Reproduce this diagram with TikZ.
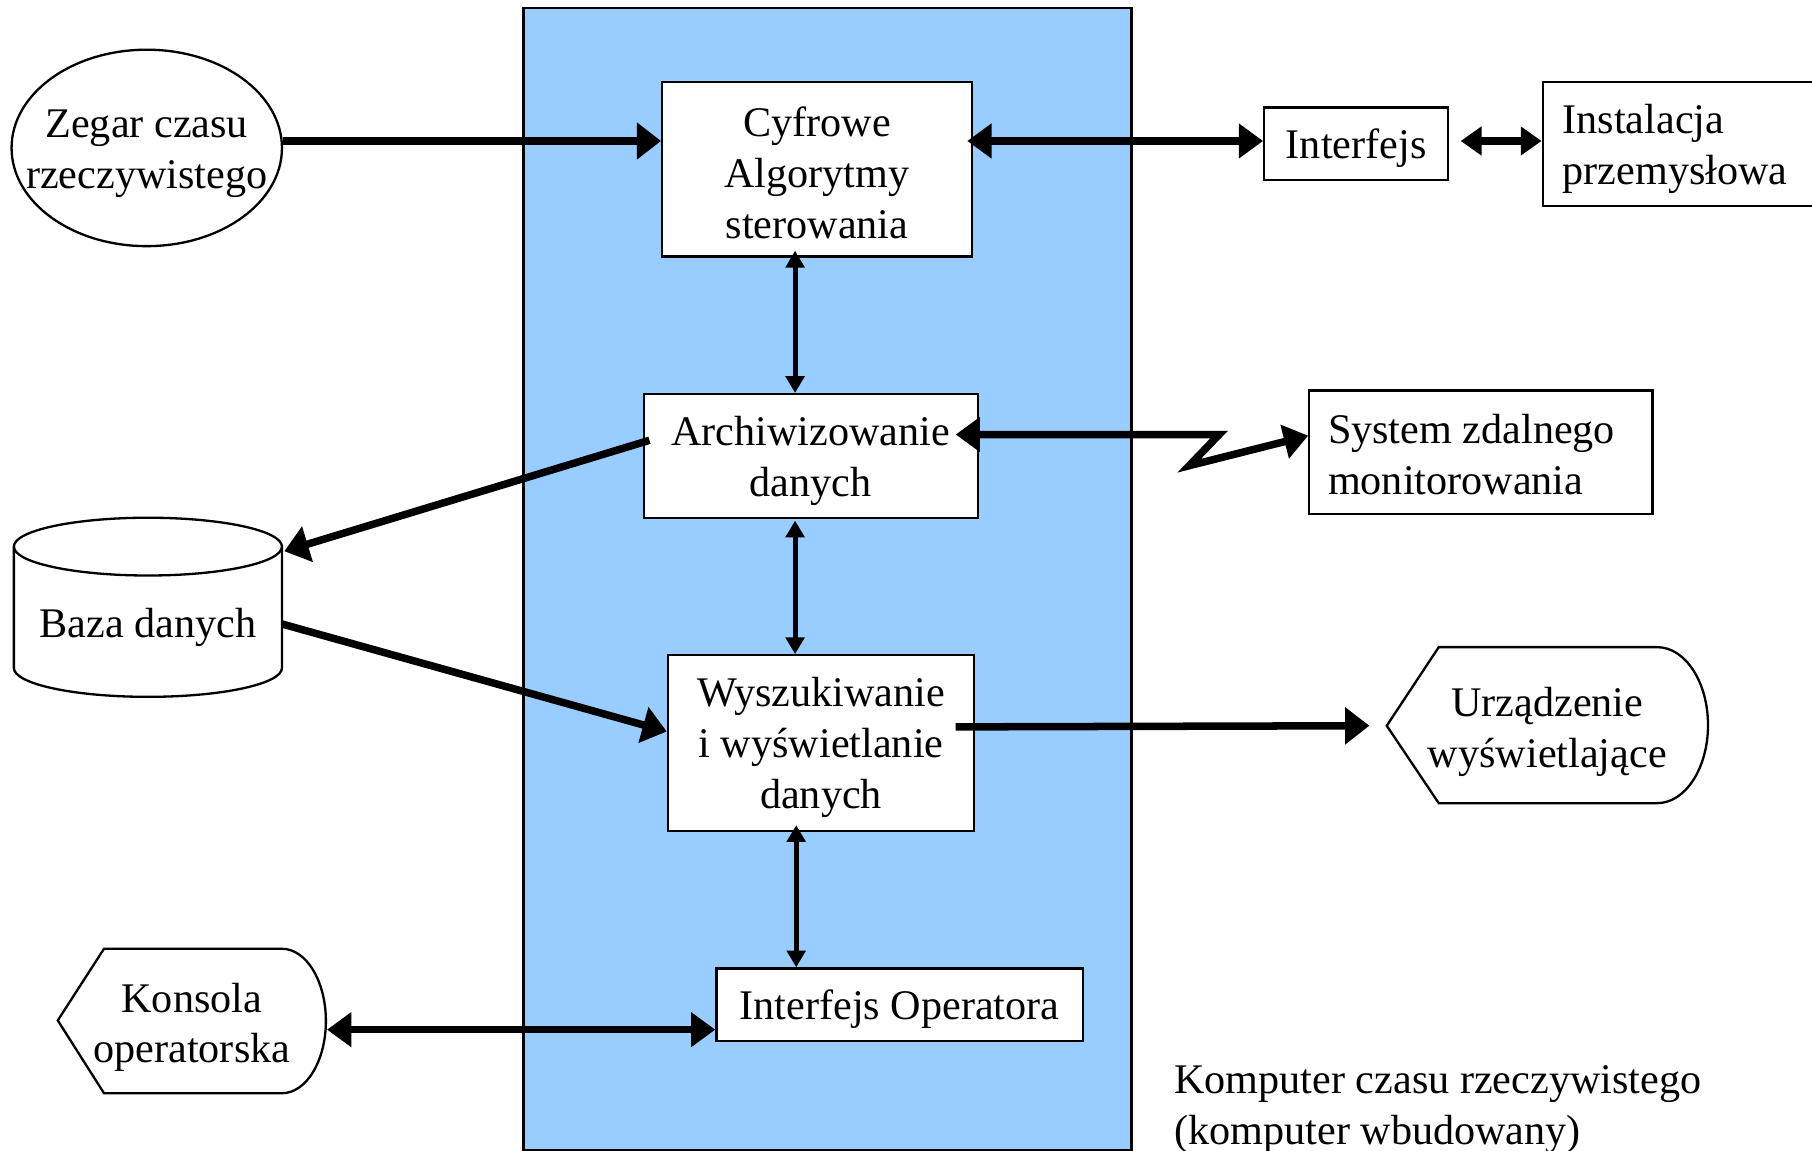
\documentclass[tikz,border=0pt]{standalone}
\usepackage{fontspec}
\setmainfont{Liberation Serif}
\usetikzlibrary{arrows.meta,shapes.geometric}

\definecolor{rtblue}{HTML}{99CCFF}

\begin{document}
\begin{tikzpicture}[x=1pt,y=-1pt,
  every node/.style={font=\fontsize{36.5}{44}\selectfont},
  box/.style={draw, line width=2pt, fill=white, inner sep=0pt},
  txt/.style={align=center, inner sep=0pt},
  ltxt/.style={align=left, inner sep=0pt, anchor=west},
  outline/.style={draw, line width=2pt, fill=white},
  big/.style={line width=6.5pt, -{Triangle[length=21pt,width=31pt]}},
  bigdbl/.style={line width=6.5pt, {Triangle[length=21pt,width=29pt]}-{Triangle[length=21pt,width=29pt]}},
  meddbl/.style={line width=6.5pt, {Triangle[length=18pt,width=24pt]}-{Triangle[length=18pt,width=24pt]}},
  vdbl/.style={line width=4.3pt, {Triangle[length=14.5pt,width=16pt]}-{Triangle[length=14.5pt,width=16pt]}}]

\useasboundingbox (0,0) rectangle (1568,996);

% real-time computer area
\draw[line width=2pt, fill=rtblue] (453,7) rectangle (979,995);

% clock
\node[ellipse, draw, line width=2pt, fill=white, minimum width=234pt, minimum height=170pt, inner sep=0pt] (zegar) at (127,128) {};
\node[txt] (zegartxt) at ([yshift=-5pt]zegar.center) {Zegar czasu\\rzeczywistego};

% boxes inside the computer
\node[box, minimum width=268pt, minimum height=151pt] (cyf) at (707,146.5) {};
\node[txt] (cyftxt) at ([yshift=-3pt]cyf.center) {Cyfrowe\\Algorytmy\\sterowania};
\node[box, minimum width=289pt, minimum height=107pt] (arch) at (701.5,394.5) {};
\node[txt] (archtxt) at ([yshift=-4pt]arch.center) {Archiwizowanie\\danych};
\node[box, minimum width=265pt, minimum height=152pt] (wysz) at (710.5,643) {};
\node[txt] (wysztxt) at ([yshift=-4pt]wysz.center) {Wyszukiwanie\\i wyświetlanie\\danych};
\node[box, minimum width=317pt, minimum height=63pt] (intop) at (778.5,869.5) {};
\node[txt] (intoptxt) at ([yshift=-4pt]intop.center) {Interfejs Operatora};

% external boxes
\node[box, minimum width=159pt, minimum height=63pt] (intf) at (1173.5,124.5) {};
\node[txt] (intftxt) at ([yshift=-4pt]intf.center) {Interfejs};
\node[box, minimum width=234pt, minimum height=107pt] (inst) at (1452,124.5) {};
\node[ltxt] (insttxt) at ([xshift=18pt,yshift=-4pt]inst.west) {Instalacja\\przemysłowa};
\node[box, minimum width=297pt, minimum height=107pt] (sys) at (1281.5,391.5) {};
\node[ltxt] (systxt) at ([xshift=17pt,yshift=-2pt]sys.west) {System zdalnego\\monitorowania};

% database cylinder
\draw[outline] (12,473) -- (12,578) arc[start angle=180, end angle=0, x radius=116, y radius=25]
  -- (244,473) arc[start angle=0, end angle=-180, x radius=116, y radius=25] -- cycle;
\draw[line width=2pt] (12,473) arc[start angle=180, end angle=0, x radius=116, y radius=25];
\node[minimum width=232pt, inner sep=0pt] (baza) at (128,540) {};
\node[txt] (bazatxt) at ([yshift=-3pt]baza.center) {Baza danych};
\coordinate (bazatop) at (246,477);

% display device
\draw[outline] (1200,628) -- (1245,560) -- (1434,560)
  arc[start angle=-90, end angle=90, x radius=44, y radius=67.5] -- (1245,695) -- cycle;
\coordinate (urztip) at (1200,628);
\node[txt] (urz) at (1339,633) {Urządzenie\\wyświetlające};

% operator console
\draw[outline] (50,883) -- (90,821) -- (244,821)
  arc[start angle=-90, end angle=90, x radius=38, y radius=62.5] -- (90,946) -- cycle;
\coordinate (konsR) at (283,891);
\node[txt] (kons) at (166,889) {Konsola\\operatorska};

% caption
\node[ltxt] (opis) at (1016,960) {Komputer czasu rzeczywistego\\(komputer wbudowany)};

% connections
\draw[big] ([yshift=6pt]zegar.east) -- ([yshift=24.5pt]cyf.west);
\draw[bigdbl] ([xshift=-5pt,yshift=24.5pt]cyf.east) -- ([yshift=2.5pt]intf.west);
\draw[meddbl] ([xshift=10pt,yshift=2.5pt]intf.east) -- ([yshift=2.5pt]inst.west);

\draw[vdbl] ([xshift=-19pt,yshift=6pt]cyf.south) -- ([xshift=-13.5pt]arch.north);
\draw[vdbl] ([xshift=-13.5pt,yshift=-1.5pt]arch.south) -- ([xshift=-22.5pt]wysz.north);
\draw[vdbl] ([xshift=-21.5pt,yshift=6pt]wysz.south) -- ([xshift=-89.5pt]intop.north);

\draw[big] ([xshift=6pt,yshift=13.5pt]arch.west) -- (bazatop);
\draw[big] (baza.east) -- ([yshift=10pt]wysz.west);

\coordinate (zz1) at (1055,376);
\coordinate (zz2) at (1029,403);
\draw[bigdbl, line join=miter] ([xshift=-20pt,yshift=18.5pt]arch.east) -- (zz1) -- (zz2) -- ([yshift=14.5pt]sys.west);

\draw[big] ([xshift=-17pt,yshift=14pt]wysz.east) -- ([xshift=-15pt]urztip);
\draw[bigdbl] (konsR) -- ([yshift=-21.5pt]intop.west);

\end{tikzpicture}
\end{document}
